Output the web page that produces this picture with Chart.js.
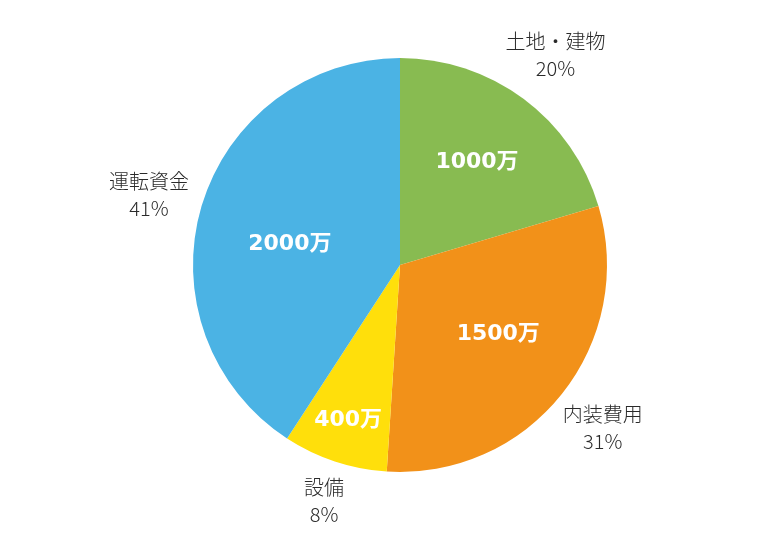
<!DOCTYPE html>
<html>
<head>
<meta charset="utf-8">
<script src="https://cdn.jsdelivr.net/npm/chart.js@4/dist/chart.umd.min.js"></script>
<style>
  html, body { margin: 0; padding: 0; background: #fff; }
  #wrap { width: 780px; height: 550px; }
</style>
</head>
<body>
<div id="wrap"><canvas id="canvas"></canvas></div>
<script>
const categories = ["土地・建物", "内装費用", "設備", "運転資金"];
const amounts = [1000, 1500, 400, 2000];
const amountLabels = ["1000万", "1500万", "400万", "2000万"];
const colors = ["#88bb51", "#f29119", "#ffdf0b", "#4bb3e4"];

// label placement tweaks (fraction of radius + pixel nudges)
const innerPos = [0.63, 0.57, 0.78, 0.55];
const innerNudge = [[-1, 2], [6, -4], [-1, 2], [-1, 12]];
const outerNudge = [[2, -4], [2, 3], [5, -8], [-5, 3]];

const sliceLabels = {
  id: "sliceLabels",
  afterDraw(chart) {
    const ctx = chart.ctx;
    const meta = chart.getDatasetMeta(0);
    const total = amounts.reduce((a, b) => a + b, 0);
    ctx.save();
    ctx.textAlign = "center";
    ctx.textBaseline = "middle";
    meta.data.forEach((arc, i) => {
      const p = arc.getProps(["x", "y", "startAngle", "endAngle", "outerRadius"], true);
      const mid = (p.startAngle + p.endAngle) / 2;
      const cos = Math.cos(mid), sin = Math.sin(mid);

      // value inside the slice
      const ri = p.outerRadius * innerPos[i];
      ctx.fillStyle = "#ffffff";
      ctx.font = "bold 22px 'DejaVu Sans', 'Noto Sans CJK JP', sans-serif";
      ctx.fillText(amountLabels[i], p.x + cos * ri + innerNudge[i][0], p.y + sin * ri + innerNudge[i][1]);

      // name and share outside
      const ro = p.outerRadius * 1.24;
      const ox = p.x + cos * ro + outerNudge[i][0];
      const oy = p.y + sin * ro + outerNudge[i][1];
      ctx.fillStyle = "#2a2a2a";
      ctx.font = "300 20px 'Noto Sans CJK JP', sans-serif";
      ctx.fillText(categories[i], ox, oy - 13.5);
      ctx.fillText(Math.round(amounts[i] / total * 100) + "%", ox, oy + 13.5);
    });
    ctx.restore();
  }
};

new Chart(document.getElementById("canvas"), {
  type: "pie",
  data: {
    labels: categories,
    datasets: [{
      data: amounts,
      backgroundColor: colors,
      borderWidth: 0
    }]
  },
  options: {
    responsive: true,
    maintainAspectRatio: false,
    animation: false,
    layout: { padding: { top: 58, bottom: 78, left: 20, right: 0 } },
    plugins: {
      legend: { display: false },
      tooltip: { enabled: false }
    }
  },
  plugins: [sliceLabels]
});
</script>
</body>
</html>
